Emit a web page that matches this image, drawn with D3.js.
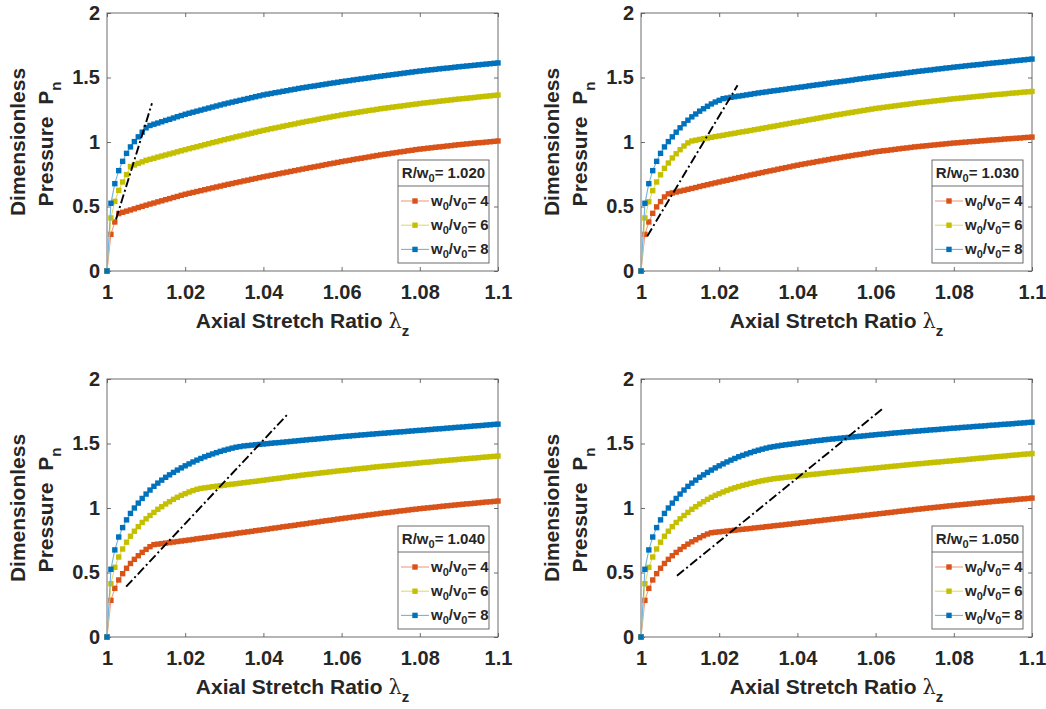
<!DOCTYPE html>
<html>
<head>
<meta charset="utf-8">
<script src="https://cdn.jsdelivr.net/npm/d3@7"></script>
<style>
  html, body { margin: 0; padding: 0; background: #ffffff; }
  svg { display: block; }
</style>
</head>
<body>
<svg id="chart" width="1046" height="709"></svg>
<script>
// ---------------- DATA ----------------
const lambdaStart = 1.0, lambdaStep = 0.001, lambdaCount = 101;
const lambdaGrid = d3.range(lambdaCount).map(i => +(lambdaStart + i * lambdaStep).toFixed(3));

const xTickValues = [1, 1.02, 1.04, 1.06, 1.08, 1.1];
const xTickLabels = ["1", "1.02", "1.04", "1.06", "1.08", "1.1"];
const yTickValues = [0, 0.5, 1, 1.5, 2];
const yTickLabels = ["0", "0.5", "1", "1.5", "2"];

const ratioLabels = ["1.020", "1.030", "1.040", "1.050"];   // R/w0
const seriesLabels = ["4", "6", "8"];                        // w0/v0

// R/w0 = 1.020
const p1_w4 = [0,0.284,0.38,0.445,0.455,0.464,0.473,0.482,0.492,0.501,0.51,
0.519,0.527,0.536,0.544,0.553,0.561,0.57,0.578,0.587,0.595,
0.602,0.609,0.616,0.623,0.63,0.637,0.644,0.651,0.658,0.665,
0.672,0.678,0.685,0.691,0.698,0.704,0.711,0.717,0.724,0.73,
0.736,0.742,0.748,0.754,0.76,0.766,0.772,0.778,0.784,0.79,
0.796,0.802,0.807,0.813,0.819,0.825,0.831,0.836,0.842,0.848,
0.853,0.858,0.864,0.869,0.874,0.879,0.884,0.89,0.895,0.9,
0.905,0.909,0.914,0.918,0.923,0.927,0.932,0.936,0.941,0.945,
0.948,0.952,0.955,0.959,0.962,0.965,0.969,0.972,0.976,0.979,
0.982,0.985,0.988,0.991,0.994,0.996,0.999,1.002,1.005,1.008];
const p1_w6 = [0,0.411,0.54,0.625,0.69,0.747,0.81,0.822,0.834,0.846,0.858,
0.866,0.874,0.883,0.891,0.899,0.907,0.915,0.924,0.932,0.94,
0.948,0.956,0.963,0.971,0.979,0.987,0.995,1.002,1.01,1.018,
1.025,1.032,1.04,1.047,1.054,1.061,1.068,1.076,1.083,1.09,
1.096,1.103,1.109,1.115,1.122,1.128,1.134,1.14,1.147,1.153,
1.159,1.164,1.17,1.176,1.182,1.187,1.193,1.199,1.204,1.21,
1.215,1.22,1.224,1.229,1.234,1.239,1.244,1.248,1.253,1.258,
1.262,1.266,1.27,1.274,1.278,1.282,1.286,1.29,1.294,1.298,
1.302,1.305,1.309,1.312,1.316,1.319,1.323,1.326,1.33,1.333,
1.336,1.339,1.342,1.345,1.349,1.352,1.355,1.358,1.361,1.364];
const p1_w8 = [0,0.525,0.677,0.778,0.85,0.912,0.962,1.003,1.04,1.076,1.11,
1.128,1.138,1.147,1.157,1.167,1.176,1.186,1.196,1.205,1.215,
1.223,1.231,1.239,1.247,1.255,1.263,1.271,1.279,1.287,1.295,
1.302,1.309,1.316,1.323,1.33,1.337,1.344,1.351,1.358,1.365,
1.371,1.376,1.382,1.387,1.393,1.398,1.404,1.409,1.415,1.42,
1.425,1.43,1.434,1.439,1.444,1.449,1.454,1.458,1.463,1.468,
1.472,1.476,1.481,1.485,1.489,1.493,1.497,1.502,1.506,1.51,
1.514,1.518,1.522,1.526,1.53,1.534,1.538,1.542,1.546,1.55,
1.553,1.557,1.56,1.563,1.567,1.57,1.573,1.576,1.58,1.583,
1.586,1.589,1.592,1.595,1.598,1.601,1.604,1.607,1.61,1.613];

// R/w0 = 1.030
const p2_w4 = [0,0.284,0.38,0.447,0.497,0.538,0.574,0.598,0.605,0.612,0.619,
0.626,0.633,0.64,0.647,0.655,0.662,0.669,0.676,0.683,0.69,
0.697,0.703,0.71,0.717,0.724,0.73,0.737,0.744,0.75,0.757,
0.763,0.77,0.776,0.782,0.789,0.795,0.801,0.807,0.814,0.82,
0.826,0.831,0.837,0.842,0.848,0.853,0.859,0.864,0.87,0.875,
0.88,0.885,0.89,0.895,0.9,0.904,0.909,0.914,0.919,0.924,
0.928,0.932,0.935,0.939,0.943,0.947,0.951,0.954,0.958,0.962,
0.965,0.968,0.971,0.974,0.977,0.98,0.983,0.986,0.989,0.992,
0.994,0.997,0.999,1.002,1.004,1.006,1.009,1.011,1.014,1.016,
1.018,1.02,1.023,1.025,1.027,1.029,1.031,1.034,1.036,1.038];
const p2_w6 = [0,0.411,0.537,0.623,0.69,0.746,0.796,0.837,0.876,0.909,0.94,
0.969,0.993,1.008,1.014,1.02,1.026,1.031,1.036,1.042,1.047,
1.052,1.058,1.063,1.068,1.074,1.079,1.084,1.089,1.095,1.1,
1.106,1.111,1.117,1.122,1.128,1.133,1.139,1.144,1.15,1.155,
1.161,1.166,1.172,1.177,1.183,1.188,1.194,1.199,1.205,1.21,
1.215,1.22,1.225,1.23,1.235,1.24,1.245,1.25,1.255,1.26,
1.264,1.268,1.272,1.276,1.28,1.284,1.288,1.292,1.296,1.3,
1.304,1.307,1.311,1.314,1.318,1.321,1.325,1.328,1.332,1.335,
1.338,1.341,1.344,1.347,1.35,1.353,1.356,1.359,1.362,1.365,
1.368,1.37,1.373,1.376,1.379,1.381,1.384,1.387,1.389,1.392];
const p2_w8 = [0,0.525,0.677,0.778,0.85,0.912,0.962,1.003,1.04,1.076,1.11,
1.141,1.169,1.195,1.217,1.239,1.258,1.277,1.295,1.31,1.323,
1.336,1.341,1.346,1.351,1.356,1.36,1.365,1.37,1.375,1.38,
1.384,1.388,1.393,1.397,1.401,1.405,1.409,1.414,1.418,1.422,
1.426,1.43,1.435,1.439,1.443,1.447,1.451,1.456,1.46,1.464,
1.468,1.472,1.476,1.48,1.485,1.489,1.493,1.497,1.501,1.505,
1.509,1.513,1.517,1.521,1.525,1.528,1.532,1.536,1.54,1.544,
1.548,1.551,1.555,1.558,1.562,1.566,1.569,1.573,1.576,1.58,
1.583,1.586,1.59,1.593,1.596,1.599,1.602,1.606,1.609,1.612,
1.615,1.618,1.621,1.624,1.628,1.631,1.634,1.637,1.64,1.643];

// R/w0 = 1.040
const p3_w4 = [0,0.284,0.377,0.442,0.491,0.533,0.57,0.602,0.63,0.656,0.679,
0.7,0.716,0.72,0.724,0.728,0.732,0.736,0.74,0.744,0.748,
0.752,0.756,0.761,0.765,0.769,0.773,0.777,0.782,0.786,0.79,
0.794,0.798,0.803,0.807,0.811,0.815,0.819,0.824,0.828,0.832,
0.836,0.841,0.845,0.849,0.854,0.858,0.862,0.866,0.871,0.875,
0.879,0.884,0.888,0.892,0.897,0.901,0.905,0.909,0.914,0.918,
0.922,0.926,0.93,0.934,0.938,0.942,0.946,0.95,0.954,0.958,
0.962,0.965,0.969,0.973,0.977,0.98,0.984,0.988,0.991,0.995,
0.998,1.001,1.004,1.007,1.011,1.014,1.017,1.02,1.023,1.026,
1.029,1.032,1.034,1.037,1.04,1.043,1.046,1.048,1.051,1.054];
const p3_w6 = [0,0.413,0.54,0.62,0.682,0.735,0.781,0.82,0.855,0.888,0.916,
0.942,0.966,0.99,1.01,1.031,1.049,1.067,1.083,1.098,1.111,
1.124,1.135,1.145,1.152,1.156,1.16,1.165,1.169,1.173,1.177,
1.181,1.185,1.188,1.192,1.196,1.2,1.204,1.207,1.211,1.215,
1.219,1.223,1.227,1.231,1.235,1.239,1.243,1.247,1.251,1.255,
1.259,1.262,1.266,1.269,1.273,1.276,1.28,1.283,1.287,1.29,
1.293,1.296,1.3,1.303,1.306,1.309,1.312,1.316,1.319,1.322,
1.325,1.328,1.33,1.333,1.336,1.339,1.342,1.344,1.347,1.35,
1.353,1.355,1.358,1.361,1.364,1.366,1.369,1.372,1.374,1.377,
1.38,1.382,1.385,1.387,1.39,1.393,1.395,1.398,1.4,1.403];
const p3_w8 = [0,0.525,0.675,0.775,0.848,0.908,0.958,1.0,1.038,1.074,1.108,
1.139,1.168,1.193,1.216,1.238,1.257,1.276,1.294,1.311,1.327,
1.342,1.357,1.371,1.384,1.397,1.408,1.419,1.429,1.439,1.448,
1.456,1.464,1.471,1.476,1.481,1.484,1.487,1.49,1.493,1.496,
1.499,1.502,1.505,1.507,1.51,1.513,1.516,1.519,1.522,1.525,
1.528,1.531,1.533,1.536,1.539,1.542,1.545,1.547,1.55,1.553,
1.556,1.558,1.561,1.563,1.566,1.568,1.571,1.573,1.576,1.578,
1.58,1.583,1.585,1.588,1.59,1.592,1.595,1.597,1.6,1.602,
1.604,1.607,1.609,1.612,1.614,1.616,1.619,1.621,1.624,1.626,
1.628,1.631,1.633,1.636,1.638,1.64,1.643,1.645,1.648,1.65];

// R/w0 = 1.050
const p4_w4 = [0,0.284,0.377,0.442,0.491,0.533,0.57,0.602,0.63,0.656,0.679,
0.7,0.72,0.738,0.754,0.77,0.785,0.798,0.808,0.812,0.815,
0.818,0.822,0.825,0.828,0.832,0.835,0.838,0.841,0.845,0.848,
0.851,0.855,0.858,0.862,0.865,0.868,0.872,0.875,0.879,0.882,
0.886,0.889,0.893,0.896,0.9,0.903,0.907,0.91,0.914,0.917,
0.921,0.924,0.928,0.931,0.935,0.938,0.942,0.945,0.949,0.952,
0.956,0.959,0.963,0.966,0.97,0.974,0.977,0.981,0.984,0.988,
0.991,0.994,0.998,1.001,1.004,1.007,1.01,1.014,1.017,1.02,
1.023,1.026,1.029,1.032,1.035,1.038,1.041,1.044,1.047,1.05,
1.053,1.055,1.058,1.061,1.063,1.066,1.069,1.071,1.074,1.077];
const p4_w6 = [0,0.413,0.54,0.62,0.682,0.735,0.781,0.82,0.855,0.888,0.916,
0.942,0.966,0.99,1.01,1.031,1.049,1.067,1.083,1.098,1.111,
1.124,1.136,1.147,1.157,1.166,1.175,1.183,1.191,1.198,1.205,
1.211,1.217,1.222,1.227,1.231,1.234,1.238,1.241,1.245,1.248,
1.251,1.254,1.258,1.261,1.264,1.267,1.27,1.274,1.277,1.28,
1.283,1.286,1.289,1.292,1.295,1.298,1.301,1.304,1.307,1.31,
1.313,1.316,1.319,1.322,1.325,1.328,1.331,1.334,1.337,1.34,
1.343,1.345,1.348,1.351,1.354,1.356,1.359,1.362,1.364,1.367,
1.37,1.373,1.375,1.378,1.381,1.384,1.387,1.389,1.392,1.395,
1.398,1.4,1.403,1.406,1.409,1.411,1.414,1.417,1.419,1.422];
const p4_w8 = [0,0.525,0.675,0.775,0.848,0.908,0.958,1.0,1.038,1.074,1.108,
1.139,1.168,1.193,1.216,1.238,1.257,1.276,1.294,1.311,1.327,
1.342,1.357,1.371,1.384,1.397,1.408,1.419,1.429,1.439,1.448,
1.456,1.464,1.471,1.476,1.481,1.486,1.49,1.494,1.498,1.502,
1.506,1.51,1.514,1.518,1.522,1.525,1.529,1.532,1.535,1.538,
1.541,1.544,1.547,1.55,1.553,1.556,1.559,1.562,1.565,1.568,
1.571,1.573,1.576,1.579,1.582,1.584,1.587,1.59,1.592,1.595,
1.597,1.6,1.602,1.605,1.607,1.609,1.612,1.614,1.617,1.619,
1.621,1.624,1.626,1.628,1.631,1.633,1.635,1.637,1.64,1.642,
1.644,1.647,1.649,1.651,1.653,1.656,1.658,1.66,1.663,1.665];

// dash-dot guide lines: [lambda, P] end points
const guide1 = [[1.0023, 0.40], [1.0115, 1.30]];
const guide2 = [[1.0016, 0.27], [1.0247, 1.44]];
const guide3 = [[1.0049, 0.39], [1.0463, 1.73]];
const guide4 = [[1.0092, 0.475], [1.062, 1.775]];

// ---------------- STYLE / LAYOUT ----------------
const markerColors = ["#D95319", "#C4C000", "#0072BD"];
const lineColors   = ["#F19C86", "#E0DC6A", "#6FB3E2"];
const FONT = "Arial, 'Liberation Sans', Helvetica, sans-serif";
const TXT = "#262626";
const AXC = "#5c5c5c";
const W = 391, H = 258;
const MS = 5.4;

const panels = [
  { left: 107, top: 13,  ratio: ratioLabels[0], series: [p1_w4, p1_w6, p1_w8], guide: guide1 },
  { left: 641, top: 13,  ratio: ratioLabels[1], series: [p2_w4, p2_w6, p2_w8], guide: guide2 },
  { left: 107, top: 379, ratio: ratioLabels[2], series: [p3_w4, p3_w6, p3_w8], guide: guide3 },
  { left: 641, top: 379, ratio: ratioLabels[3], series: [p4_w4, p4_w6, p4_w8], guide: guide4 }
];

const svg = d3.select("#chart");
svg.append("rect").attr("width", 1046).attr("height", 709).attr("fill", "#fff");

function styleAxis(g, showLabels) {
  g.select(".domain").remove();
  g.selectAll(".tick line").attr("stroke", AXC).attr("stroke-width", 0.9);
  g.selectAll(".tick text")
    .attr("font-family", FONT).attr("font-size", 20).attr("font-weight", "bold")
    .attr("fill", TXT);
  if (!showLabels) g.selectAll(".tick text").remove();
}

panels.forEach(p => {
  const g = svg.append("g").attr("transform", `translate(${p.left},${p.top})`);
  const x = d3.scaleLinear().domain([1, 1.1]).range([0, W]);
  const y = d3.scaleLinear().domain([0, 2]).range([H, 0]);

  // axes (ticks inward)
  g.append("g").attr("transform", `translate(0,${H})`)
    .call(d3.axisBottom(x).tickValues(xTickValues).tickSizeInner(-4).tickSizeOuter(0).tickPadding(14)
      .tickFormat((d, i) => xTickLabels[i]))
    .call(a => styleAxis(a, true));
  g.append("g")
    .call(d3.axisTop(x).tickValues(xTickValues).tickSizeInner(-4).tickSizeOuter(0).tickFormat(""))
    .call(a => styleAxis(a, false));
  g.append("g")
    .call(d3.axisLeft(y).tickValues(yTickValues).tickSizeInner(-4).tickSizeOuter(0).tickPadding(7)
      .tickFormat((d, i) => yTickLabels[i]))
    .call(a => styleAxis(a, true));
  g.append("g").attr("transform", `translate(${W},0)`)
    .call(d3.axisRight(y).tickValues(yTickValues).tickSizeInner(-4).tickSizeOuter(0).tickFormat(""))
    .call(a => styleAxis(a, false));

  g.append("rect").attr("x", 0).attr("y", 0).attr("width", W).attr("height", H)
    .attr("fill", "none").attr("stroke", AXC).attr("stroke-width", 0.9);

  // series
  const line = d3.line().x((d, i) => x(lambdaGrid[i])).y(d => y(d));
  p.series.forEach((vals, si) => {
    g.append("path").datum(vals).attr("d", line)
      .attr("fill", "none").attr("stroke", lineColors[si]).attr("stroke-width", 1.1);
    g.append("g").selectAll("rect").data(vals).join("rect")
      .attr("x", (d, i) => x(lambdaGrid[i]) - MS / 2)
      .attr("y", d => y(d) - MS / 2)
      .attr("width", MS).attr("height", MS)
      .attr("fill", markerColors[si]);
  });

  // dash-dot guide
  g.append("path").datum(p.guide)
    .attr("d", d3.line().x(d => x(d[0])).y(d => y(d[1])))
    .attr("fill", "none").attr("stroke", "#000").attr("stroke-width", 1.9)
    .attr("stroke-dasharray", "9,3,2,3");

  // y label
  const yl = g.append("g").attr("transform", `translate(0,${H / 2})`);
  yl.append("text").attr("transform", "translate(-82,0) rotate(-90)")
    .attr("text-anchor", "middle").attr("font-family", FONT).attr("font-size", 21)
    .attr("font-weight", "bold").attr("fill", TXT).text("Dimensionless");
  const t2 = yl.append("text").attr("transform", "translate(-54,2) rotate(-90)")
    .attr("text-anchor", "middle").attr("font-family", FONT).attr("font-size", 21)
    .attr("font-weight", "bold").attr("fill", TXT);
  t2.append("tspan").text("Pressure\u00A0\u00A0P");
  t2.append("tspan").attr("font-size", 15).attr("dy", 8).text("n");

  // x label
  const xl = g.append("text").attr("x", W / 2).attr("y", H + 57)
    .attr("text-anchor", "middle").attr("font-family", FONT).attr("font-size", 21)
    .attr("font-weight", "bold").attr("fill", TXT);
  xl.append("tspan").text("Axial Stretch Ratio ");
  xl.append("tspan").attr("font-weight", "normal").attr("font-family", "'DejaVu Serif', serif").attr("font-size", 21).text("\u03BB");
  xl.append("tspan").attr("font-size", 15).attr("dy", 8).text("z");

  // legend
  const lw = 91, lh = 103;
  const lg = g.append("g").attr("transform", `translate(${W - 9 - lw},${H - 8 - lh})`);
  lg.append("rect").attr("width", lw).attr("height", lh)
    .attr("fill", "#fff").attr("stroke", AXC).attr("stroke-width", 0.9);
  lg.append("line").attr("x1", 0).attr("x2", lw).attr("y1", 26).attr("y2", 26)
    .attr("stroke", AXC).attr("stroke-width", 0.9);
  const tt = lg.append("text").attr("x", lw / 2).attr("y", 18).attr("text-anchor", "middle")
    .attr("font-family", FONT).attr("font-size", 15).attr("font-weight", "bold").attr("fill", TXT);
  tt.append("tspan").text("R/w");
  tt.append("tspan").attr("font-size", 11).attr("dy", 4).text("0");
  tt.append("tspan").attr("dy", -4).text("= " + p.ratio);

  seriesLabels.forEach((lab, si) => {
    const cy = 41 + si * 24.2;
    lg.append("line").attr("x1", 3).attr("x2", 31).attr("y1", cy).attr("y2", cy)
      .attr("stroke", lineColors[si]).attr("stroke-width", 1.1);
    lg.append("rect").attr("x", 17 - MS / 2).attr("y", cy - MS / 2).attr("width", MS).attr("height", MS)
      .attr("fill", markerColors[si]);
    const t = lg.append("text").attr("x", 33).attr("y", cy + 5)
      .attr("font-family", FONT).attr("font-size", 15).attr("font-weight", "bold").attr("fill", TXT);
    t.append("tspan").text("w");
    t.append("tspan").attr("font-size", 11).attr("dy", 4).text("0");
    t.append("tspan").attr("dy", -4).text("/v");
    t.append("tspan").attr("font-size", 11).attr("dy", 4).text("0");
    t.append("tspan").attr("dy", -4).text("= " + lab);
  });
});
</script>
</body>
</html>
